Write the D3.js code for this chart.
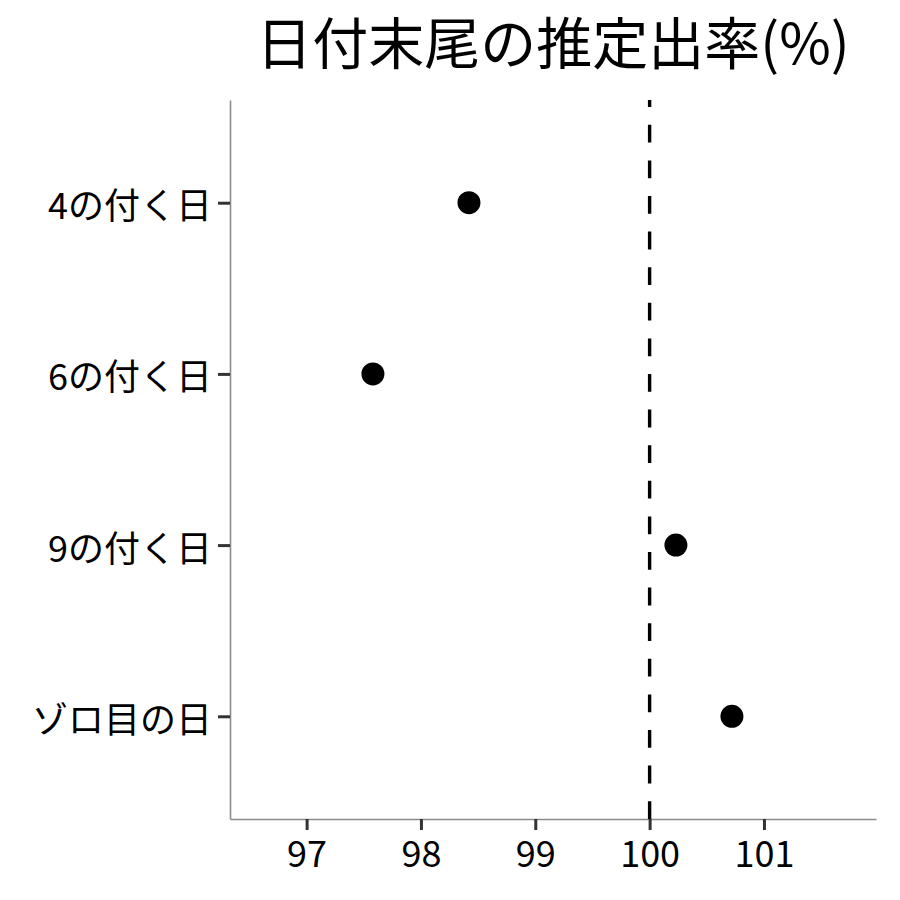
<!DOCTYPE html>
<meta charset="utf-8">
<title>日付末尾の推定出率</title>
<script src="https://d3js.org/d3.v7.min.js"></script>
<style>
  body { margin: 0; background: #fff; }
  text { font-family: "Noto Sans CJK JP", "Noto Sans", sans-serif; fill: #000; }
</style>
<body>
</body>
<script>
  // data
  const categories = ["4の付く日", "6の付く日", "9の付く日", "ゾロ目の日"];
  const rates = [98.42, 97.58, 100.23, 100.72];
  const xTicks = [97, 98, 99, 100, 101];
  const refValue = 100;

  const width = 900, height = 900;
  const margin = {top: 100, right: 24, bottom: 81, left: 230};

  const svg = d3.select("body").append("svg")
      .attr("width", width).attr("height", height);

  const x = d3.scaleLinear()
      .domain([96.33, 101.98])
      .range([margin.left, width - margin.right]);

  // ggplot-like discrete scale: 0.6 expansion either side
  const y = d3.scalePoint()
      .domain(categories)
      .range([margin.top, height - margin.bottom])
      .padding(0.6);

  ////////////////////// title //////////////////////
  svg.append("text")
      .attr("x", (margin.left + width - margin.right) / 2)
      .attr("y", 64)
      .attr("text-anchor", "middle")
      .style("font-size", "56px")
      .text("日付末尾の推定出率(%)");

  ////////////////////// axes //////////////////////
  const xAxis = svg.append("g")
      .attr("transform", `translate(0,${height - margin.bottom})`)
      .call(d3.axisBottom(x).tickValues(xTicks).tickFormat(d3.format("d"))
        .tickSize(11).tickSizeOuter(0).tickPadding(11));

  const yAxis = svg.append("g")
      .attr("transform", `translate(${margin.left},0)`)
      .call(d3.axisLeft(y).tickSize(12).tickSizeOuter(0).tickPadding(6));

  [xAxis, yAxis].forEach(ax => {
    ax.select(".domain").attr("stroke", "#8c8c8c").attr("stroke-width", 1.6);
    ax.selectAll(".tick line").attr("stroke", "#333").attr("stroke-width", 3);
    ax.selectAll(".tick text")
        .style("font-size", "36px")
        .attr("fill", "#000")
        .style("font-family", "'Noto Sans CJK JP', sans-serif");
  });
  yAxis.selectAll(".tick text").attr("dy", null).attr("dominant-baseline", "central");

  ////////////////////// reference line //////////////////////
  svg.append("line")
      .attr("x1", x(refValue)).attr("x2", x(refValue))
      .attr("y1", height - margin.bottom).attr("y2", margin.top)
      .attr("stroke", "#000")
      .attr("stroke-width", 3.4)
      .attr("stroke-dasharray", "17.8,17.8");

  ////////////////////// points //////////////////////
  svg.append("g")
      .selectAll("circle")
      .data(categories.map((c, i) => ({cat: c, v: rates[i]})))
      .join("circle")
      .attr("cx", d => x(d.v))
      .attr("cy", d => y(d.cat))
      .attr("r", 11.5)
      .attr("fill", "#000");
</script>
